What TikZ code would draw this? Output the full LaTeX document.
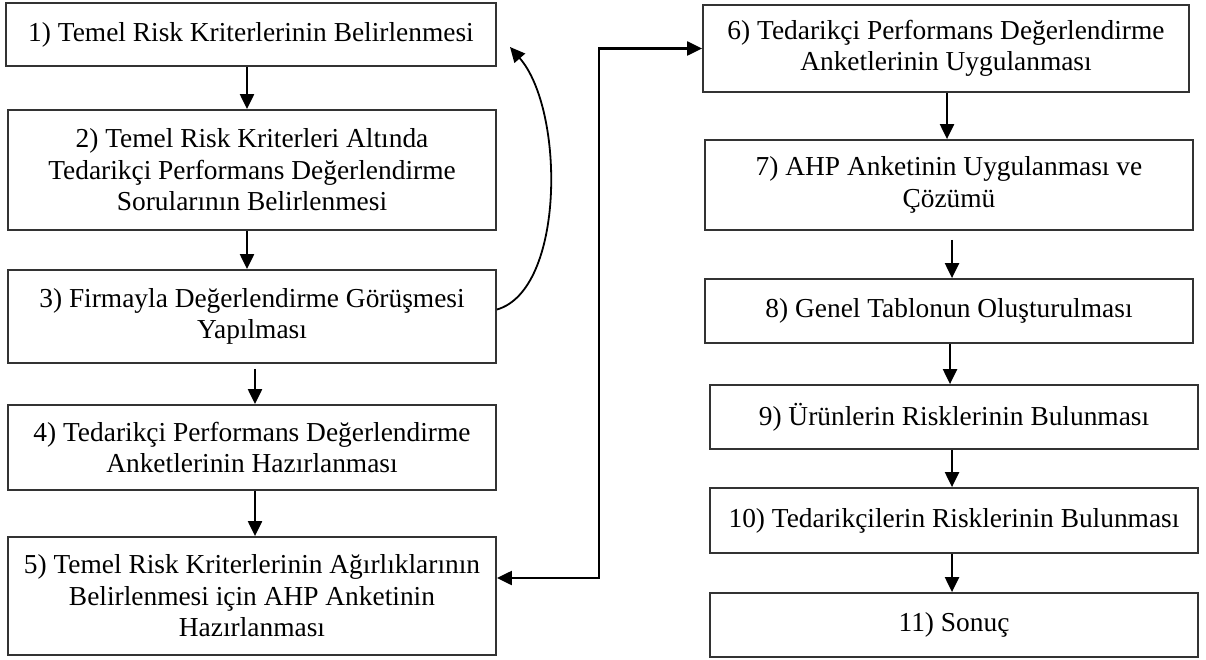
\documentclass[tikz,border=0pt]{standalone}
\usepackage{fontspec}
\setmainfont{Liberation Serif}
\usepackage{tikz}
\usetikzlibrary{positioning,arrows.meta,calc}

\begin{document}
\begin{tikzpicture}[
    x=1pt, y=-1pt,
    font=\fontsize{27.4}{31.5}\selectfont,
    box/.style={draw=black!80, line width=1.8pt, minimum width=488pt,
                align=center, inner sep=3pt, fill=white},
    arr/.style={-{Triangle[length=15pt,width=14pt]}, line width=2.2pt},
    biarr/.style={{Triangle[length=15pt,width=14pt]}-{Triangle[length=15pt,width=14pt]}, line width=2.2pt}
  ]
  \useasboundingbox (0,0) rectangle (1206,660);

  % left column
  \node[box, minimum width=490pt, minimum height=63pt]  (b1) at (251, 34.5) {1) Temel Risk Kriterlerinin Belirlenmesi};
  \node[box, minimum height=120pt] (b2) at (252, 170)   {2) Temel Risk Kriterleri Altında\\Tedarikçi Performans Değerlendirme\\Sorularının Belirlenmesi};
  \node[box, minimum height=93pt]  (b3) at (252, 316.5) {3) Firmayla Değerlendirme Görüşmesi\\Yapılması};
  \node[box, minimum height=85pt]  (b4) at (252, 447.5) {4) Tedarikçi Performans Değerlendirme\\Anketlerinin Hazırlanması};
  \node[box, minimum height=118pt] (b5) at (252, 596)   {5) Temel Risk Kriterlerinin Ağırlıklarının\\Belirlenmesi için AHP Anketinin\\Hazırlanması};

  % right column
  \node[box, minimum width=486pt, minimum height=87pt] (b6) at (946, 48.5) {6) Tedarikçi Performans Değerlendirme\\Anketlerinin Uygulanması};
  \node[box, minimum height=90pt]  (b7)  at (949, 185)   {7) AHP Anketinin Uygulanması ve\\Çözümü};
  \node[box, minimum height=64pt]  (b8)  at (949, 311)   {8) Genel Tablonun Oluşturulması};
  \node[box, minimum height=64pt]  (b9)  at (954, 417)   {9) Ürünlerin Risklerinin Bulunması};
  \node[box, minimum height=65pt]  (b10) at (954, 520.5) {10) Tedarikçilerin Risklerinin Bulunması};
  \node[box, minimum height=64pt]  (b11) at (954, 625)   {11) Sonuç};

  \coordinate (back) at (510, 47);

  \draw[arr] ([xshift=-4pt]b1.south) -- ([xshift=-4pt]b1.south |- b2.north);
  \draw[arr] ([xshift=-5pt]b2.south) -- ([xshift=-5pt]b2.south |- b3.north);
  \draw[arr] ([xshift=3pt,yshift=-5pt]b3.south) -- ([xshift=3pt]b3.south |- b4.north);
  \draw[arr] ([xshift=3pt]b4.south) -- ([xshift=3pt]b4.south |- b5.north);
  \draw[arr, line width=1.8pt] ([yshift=7pt]b3.east) .. controls (565,290) and (565,110) .. (back);
  \draw[biarr] ([yshift=18pt]b5.east) -- ++(102,0) |- (b6.west);

  \draw[arr] ([xshift=1pt]b6.south) -- ([xshift=1pt]b6.south |- b7.north);
  \draw[arr] ([xshift=3pt,yshift=-9pt]b7.south) -- ([xshift=3pt]b7.south |- b8.north);
  \draw[arr] ([xshift=1pt]b8.south) -- ([xshift=1pt]b8.south |- b9.north);
  \draw[arr] ([xshift=-2pt]b9.south) -- ([xshift=-2pt]b9.south |- b10.north);
  \draw[arr] ([xshift=-2pt]b10.south) -- ([xshift=-2pt]b10.south |- b11.north);
\end{tikzpicture}
\end{document}
